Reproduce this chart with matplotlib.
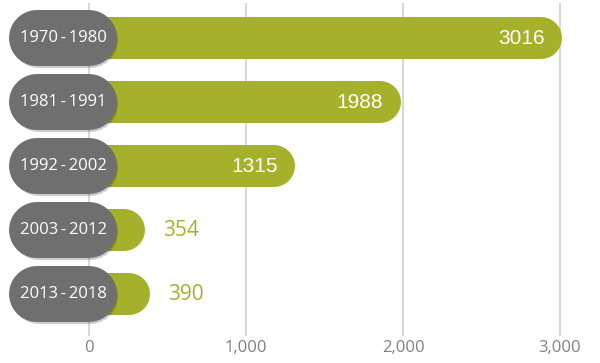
""" Horizontal rounded bars per period """

import matplotlib
matplotlib.use('Agg')
import matplotlib.pyplot as plt
import matplotlib.patheffects as pe

# Data
periods = ['1970 - 1980', '1981 - 1991', '1992 - 2002', '2003 - 2012', '2013 - 2018']
counts = [3016, 1988, 1315, 354, 390]
xticks = [0, 1000, 2000, 3000]

green = '#a5b02b'
grey = '#6f6f6f'
dpi = 100

fig = plt.figure(figsize=(6.0, 3.63), dpi=dpi)
ax = fig.add_axes([0, 27 / 363, 1, 333 / 363])
ax.set_xlim(-567, 3255)
ax.set_ylim(4.656, -0.547)
for side in ax.spines.values():
    side.set_visible(False)
ax.set_yticks([])
ax.set_xticks(xticks)
ax.set_xticklabels([f'{t:,}' for t in xticks], fontfamily='Open Sans',
                   fontsize=12, color='#808080')
ax.tick_params(axis='x', length=0, pad=3)
ax.grid(axis='x', color='#cfcfcf', lw=1.2)
ax.set_axisbelow(True)

# data units per pixel along x
x0, x1 = ax.get_xlim()
unit_per_px = (x1 - x0) / (fig.get_figwidth() * dpi)
pt = 72 / dpi

bar_px = 42
pill_px = 56
bar_r = bar_px / 2 * unit_per_px

for i, (period, n) in enumerate(zip(periods, counts)):
    # green bar with round end
    ax.plot([-300, n - bar_r], [i, i], color=green, lw=bar_px * pt,
            solid_capstyle='round', zorder=2)
    # grey pill with the period
    ax.plot([-330, 0], [i, i], color=grey, lw=pill_px * pt,
            solid_capstyle='round', zorder=3,
            path_effects=[pe.SimpleLineShadow(offset=(1, -1.5), alpha=0.2),
                          pe.Normal()])
    ax.text(-162, i, period.replace(' ', '\u2009'), color='white',
            family=['Open Sans', 'DejaVu Sans'], fontsize=12,
            ha='center', va='center', zorder=4)
    if n >= 1000:
        ax.annotate(str(n), (n, i), xytext=(-13, 0), textcoords='offset points',
                    color='white', fontfamily='Liberation Sans', fontsize=15,
                    ha='right', va='center', zorder=4)
    else:
        ax.annotate(str(n), (n, i), xytext=(13, 0), textcoords='offset points',
                    color=green, fontfamily='Open Sans', fontsize=15,
                    ha='left', va='center', zorder=4)

fig.savefig('out.png', dpi=dpi)
